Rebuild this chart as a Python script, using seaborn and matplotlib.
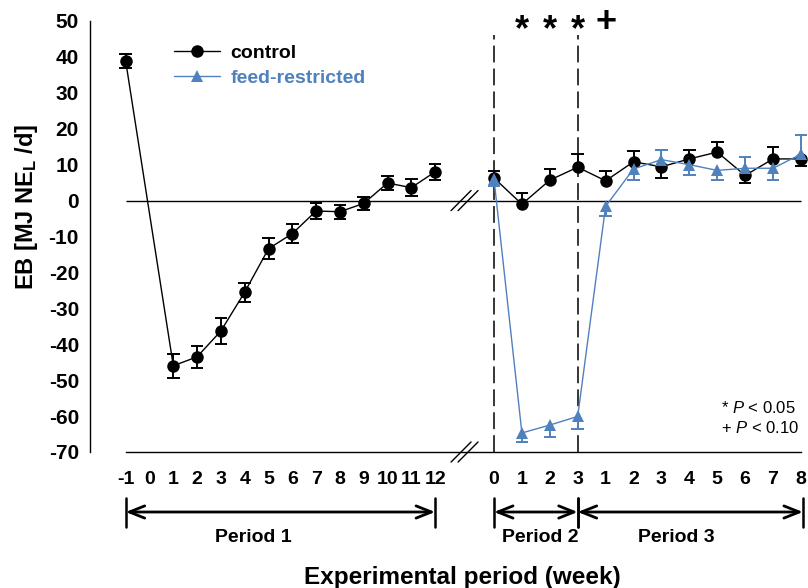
import numpy as np
import pandas as pd
import matplotlib
matplotlib.use("Agg")
import matplotlib.pyplot as plt
import matplotlib.transforms as mtransforms
from matplotlib.lines import Line2D
import seaborn as sns

# ---------------- data ----------------
p1_labels = ["-1", "0", "1", "2", "3", "4", "5", "6", "7", "8", "9", "10", "11", "12"]
p23_labels = ["0", "1", "2", "3", "1", "2", "3", "4", "5", "6", "7", "8"]

ctrl_p1_weeks = ["-1", "1", "2", "3", "4", "5", "6", "7", "8", "9", "10", "11", "12"]
ctrl_p1_eb = [38.8, -46.0, -43.5, -36.3, -25.5, -13.4, -9.2, -2.9, -3.1, -0.8, 4.9, 3.6, 8.0]
ctrl_p1_sem = [1.9, 3.4, 3.1, 3.6, 2.6, 3.0, 2.7, 2.1, 2.0, 1.8, 1.9, 2.3, 2.2]
ctrl_p1_side = ["±"] * 13

ctrl_p23_eb = [6.3, -1.0, 5.7, 9.3, 5.5, 10.8, 9.4, 11.6, 13.5, 7.0, 11.6, 11.6]
ctrl_p23_sem = [1.8, 3.0, 3.2, 3.7, 2.8, 3.0, 3.0, 2.4, 2.9, 2.1, 3.3, 2.0]
ctrl_p23_side = ["+", "+", "+", "+", "+", "+", "-", "+", "+", "-", "+", "-"]

fr_p23_eb = [6.0, -64.7, -62.5, -60.1, -1.6, 8.8, 11.4, 10.0, 8.4, 9.0, 9.0, 12.9]
fr_p23_sem = [2.0, 2.6, 3.2, 3.5, 2.6, 3.2, 2.8, 3.0, 2.6, 3.2, 3.2, 5.3]
fr_p23_side = ["-", "-", "-", "-", "-", "-", "+", "-", "-", "+", "-", "+"]

sig_marks = ["*", "*", "*", "+"]          # P2 wk1, wk2, wk3, P3 wk1
sig_idx = [1, 2, 3, 4]

period_names = ["Period 1", "Period 2", "Period 3"]

# ---------------- style / layout ----------------
W, H = 808, 588
AX_L, AX_R, AX_T, AX_B = 90, 808, 21, 452
P1_X0, P1_DX = 125.7, 23.8
P23_X0, P23_DX = 494.0, 27.9
BLUE = "#4F81BD"
CAP_HW = 6.3
PERIOD_LABEL_X = [253, 540, 676]

sns.set_theme(style="white")
plt.rcParams["font.family"] = ["Liberation Sans", "DejaVu Sans"]
plt.rcParams["mathtext.fontset"] = "custom"
plt.rcParams["mathtext.rm"] = "Liberation Sans:bold"
plt.rcParams["mathtext.it"] = "Liberation Sans:italic"
for k in ("text.color", "axes.labelcolor", "xtick.color", "ytick.color"):
    plt.rcParams[k] = "black"

p1_x = [P1_X0 + P1_DX * i for i in range(len(p1_labels))]
p23_x = [P23_X0 + P23_DX * i for i in range(len(p23_labels))]
ctrl_p1_x = [p1_x[p1_labels.index(w)] for w in ctrl_p1_weeks]

rows = []
for x, v, s, sd in zip(ctrl_p1_x, ctrl_p1_eb, ctrl_p1_sem, ctrl_p1_side):
    rows.append(dict(x=x, eb=v, err=s, side=sd, group="control", segment="c1"))
for x, v, s, sd in zip(p23_x, ctrl_p23_eb, ctrl_p23_sem, ctrl_p23_side):
    rows.append(dict(x=x, eb=v, err=s, side=sd, group="control", segment="c2"))
for x, v, s, sd in zip(p23_x, fr_p23_eb, fr_p23_sem, fr_p23_side):
    rows.append(dict(x=x, eb=v, err=s, side=sd, group="feed-restricted", segment="f2"))
df = pd.DataFrame(rows)

fig = plt.figure(figsize=(W / 100, H / 100), dpi=100)
ax = fig.add_axes([AX_L / W, 1 - AX_B / H, (AX_R - AX_L) / W, (AX_B - AX_T) / H])
ax.set_xlim(AX_L, AX_R)
ax.set_ylim(-70, 50)
ax.patch.set_alpha(0)

# zero line
ax.hlines(0, p1_x[0], p23_x[-1], color="black", lw=1.0, zorder=1)

# period boundary dashed lines
for xv in (p23_x[0], p23_x[3]):
    ax.vlines(xv, -70, 46, color="black", lw=1.1, linestyles=(0, (11, 4)), zorder=1)


def draw_err(sub, color, z):
    for x, v, e, sd in zip(sub["x"], sub["eb"], sub["err"], sub["side"]):
        lo = v - e if sd in "-±" else v
        hi = v + e if sd in "+±" else v
        ax.vlines(x, lo, hi, color=color, lw=1.4, zorder=z)
        if sd in "-±":
            ax.hlines(lo, x - CAP_HW, x + CAP_HW, color=color, lw=1.4, zorder=z)
        if sd in "+±":
            ax.hlines(hi, x - CAP_HW, x + CAP_HW, color=color, lw=1.4, zorder=z)


ctrl = df[df.group == "control"]
fr = df[df.group == "feed-restricted"]
draw_err(ctrl, "black", 2.5)
sns.lineplot(data=ctrl, x="x", y="eb", units="segment", estimator=None, sort=False,
             color="black", marker="o", markersize=9, markeredgewidth=0,
             linewidth=1.0, legend=False, ax=ax, zorder=3)
draw_err(fr, BLUE, 3.5)
sns.lineplot(data=fr, x="x", y="eb", units="segment", estimator=None, sort=False,
             color=BLUE, marker="^", markersize=9, markeredgewidth=0,
             linewidth=1.0, legend=False, ax=ax, zorder=4)

# axes styling
for s in ("top", "right"):
    ax.spines[s].set_visible(False)
ax.spines["left"].set_color("black")
ax.spines["left"].set_linewidth(1.0)
ax.spines["bottom"].set_color("black")
ax.spines["bottom"].set_linewidth(1.0)
ax.spines["bottom"].set_bounds(p1_x[0], p23_x[-1])
ax.set_yticks(np.arange(-70, 51, 10))
ax.set_yticklabels([str(v) for v in range(-70, 51, 10)], fontsize=15, fontweight="bold")
ax.set_xticks(p1_x + p23_x)
ax.set_xticklabels(p1_labels + p23_labels, fontsize=14, fontweight="bold")
ax.tick_params(axis="y", direction="out", length=5, width=1.0, pad=3, colors="black")
ax.tick_params(axis="x", direction="out", length=4.5, width=1.0, pad=9, colors="black")
ax.set_xlabel("")
ax.set_ylabel("")

# axis break marks
for yc, yd in ((0, 2.8), (-70, 2.8)):
    for dx in (-3.5, 3.5):
        xc = (p1_x[-1] + p23_x[0]) / 2 + dx
        ax.plot([xc - 10, xc + 10], [yc - yd, yc + yd], color="black", lw=1.0,
                clip_on=False, zorder=5)

# significance marks
for m, i in zip(sig_marks, sig_idx):
    yv = 44.8 if m == "*" else 46.8
    ax.text(p23_x[i], yv, m, ha="center", va="baseline", fontsize=26, fontweight="bold")

# P-value note
ax.text(721, -57.7, "* $\\mathit{P}$ < 0.05", ha="left", va="center", fontsize=12)
ax.text(721, -63.3, "+ $\\mathit{P}$ < 0.10", ha="left", va="center", fontsize=12)

# legend
handles = [Line2D([], [], color="black", marker="o", markersize=9, markeredgewidth=0, lw=1.0),
           Line2D([], [], color=BLUE, marker="^", markersize=9, markeredgewidth=0, lw=1.0)]
leg = ax.legend(handles, ["control", "feed-restricted"], loc="upper left",
                bbox_to_anchor=(174 / W, 1 - 44 / H), bbox_transform=fig.transFigure,
                frameon=False, borderpad=0, borderaxespad=0, handlelength=2.35,
                handletextpad=0.55, labelspacing=0.4,
                prop=dict(size=14, weight="bold"))
leg.get_texts()[1].set_color(BLUE)

# period arrows below the axis
trans = mtransforms.blended_transform_factory(ax.transData, fig.transFigure)


def fy(py):
    return 1 - py / H


spans = [(p1_x[0], p1_x[-1]), (p23_x[0], p23_x[3]), (p23_x[3], p23_x[-1] + 2)]
for name, (x0, x1), lx in zip(period_names, spans, PERIOD_LABEL_X):
    ax.annotate("", xy=(x1, fy(512)), xytext=(x0, fy(512)), xycoords=trans, textcoords=trans,
                arrowprops=dict(arrowstyle="<->,head_length=0.55,head_width=0.22",
                                lw=2.0, color="black", shrinkA=0, shrinkB=0,
                                mutation_scale=20), annotation_clip=False)
    for xe in (x0, x1):
        ax.plot([xe, xe], [fy(498), fy(527)], color="black", lw=1.8, transform=trans,
                clip_on=False)
    fig.text(lx / W, fy(538), name, ha="center", va="center",
             fontsize=14, fontweight="bold")

fig.text(462 / W, fy(584), "Experimental period (week)",
         ha="center", va="baseline", fontsize=17.5, fontweight="bold")
fig.text(27 / W, fy(207), "EB [MJ NE$_{\\mathrm{L}}$ /d]", rotation=90, ha="center",
         va="center", fontsize=17, fontweight="bold")

fig.savefig("out.png", dpi=100)
